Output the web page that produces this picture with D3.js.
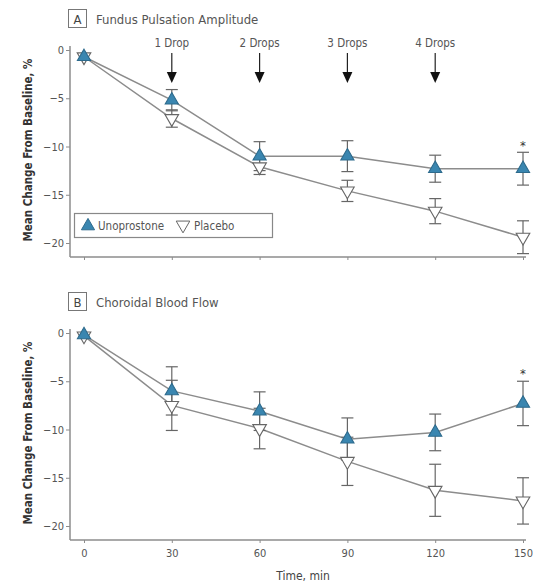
<!DOCTYPE html>
<html>
<head>
<meta charset="utf-8">
<script src="https://cdn.jsdelivr.net/npm/d3@7"></script>
<style>
  body { margin: 0; background: #fff; }
  text { font-family: "Liberation Sans Narrow", "DejaVu Sans Condensed", "Liberation Sans", sans-serif; }
</style>
</head>
<body>
<svg id="chart" width="537" height="587"></svg>
<script>
// time points, min
const times = [0, 30, 60, 90, 120, 150];
const yTicks = [0, -5, -10, -15, -20];
const drops = [
  { t: 30, label: "1 Drop" },
  { t: 60, label: "2 Drops" },
  { t: 90, label: "3 Drops" },
  { t: 120, label: "4 Drops" }
];

// panel A - fundus pulsation amplitude
const fpaUno = [-0.7, -5.2, -11.0, -11.0, -12.3, -12.3];
const fpaUnoErr = [0.3, 1.1, 1.5, 1.6, 1.4, 1.7];
const fpaPla = [-0.7, -7.1, -12.1, -14.6, -16.7, -19.4];
const fpaPlaErr = [0.3, 0.9, 0.8, 1.1, 1.3, 1.7];

// panel B - choroidal blood flow
const cbfUno = [-0.2, -6.0, -8.1, -11.0, -10.3, -7.3];
const cbfUnoErr = [0.3, 2.5, 2.0, 2.2, 1.9, 2.3];
const cbfPla = [-0.3, -7.5, -9.9, -13.3, -16.3, -17.4];
const cbfPlaErr = [0.3, 2.6, 2.1, 2.5, 2.7, 2.4];

const svg = d3.select("#chart");
const grey = "#8c8c8c";
const textCol = "#555";

const x = d3.scaleLinear().domain([0, 150]).range([84, 523]);

const drawPanel = (opts) => {
  const { top, letter, title, uno, unoErr, pla, plaErr, showX, star } = opts;
  // 0 -> top, -20 -> top+193
  const y = d3.scaleLinear().domain([0, -20]).range([top, top + 193]);
  const axisY = top + 207;
  const g = svg.append("g");

  // panel heading
  g.append("rect")
    .attr("x", 68.5).attr("y", top - 40.5)
    .attr("width", 18).attr("height", 18)
    .attr("fill", "none").attr("stroke", "#777");
  g.append("text")
    .attr("x", 77.5).attr("y", top - 26.5)
    .attr("text-anchor", "middle")
    .attr("font-size", 13).attr("fill", "#444")
    .text(letter);
  g.append("text")
    .attr("x", 96).attr("y", top - 26.5)
    .attr("font-size", 13).attr("fill", "#555")
    .text(title);

  // axes
  const yAxis = d3.axisLeft(y).tickValues(yTicks).tickSize(4).tickPadding(2)
    .tickFormat((d) => d === 0 ? "0" : "\u2212" + Math.abs(d));
  const ya = g.append("g").attr("transform", "translate(70,0)").call(yAxis);
  ya.select(".domain").attr("d", "M0," + (top - 4) + "V" + axisY);
  ya.selectAll("line").attr("stroke", grey);
  ya.select(".domain").attr("stroke", grey).attr("stroke-width", 1.5);
  ya.selectAll("text").attr("font-size", 11).attr("fill", textCol)
    .attr("font-family", "'Liberation Sans Narrow', 'DejaVu Sans Condensed', sans-serif");

  const xAxis = d3.axisBottom(x).tickValues(times).tickSize(3).tickPadding(6)
    .tickFormat(showX ? d3.format("d") : () => "");
  const xa = g.append("g").attr("transform", "translate(0," + axisY + ")").call(xAxis);
  xa.select(".domain").attr("d", "M70,0H526").attr("stroke", grey).attr("stroke-width", 1.5);
  xa.selectAll("line").attr("stroke", grey);
  xa.selectAll("text").attr("font-size", 11).attr("fill", textCol)
    .attr("font-family", "'Liberation Sans Narrow', 'DejaVu Sans Condensed', sans-serif");

  g.append("text")
    .attr("transform", "translate(32," + (top + 100) + ") rotate(-90)")
    .attr("text-anchor", "middle")
    .attr("font-size", 11.5).attr("font-weight", "bold").attr("fill", "#333")
    .text("Mean Change From Baseline, %");

  const line = d3.line().x((d, i) => x(times[i])).y((d) => y(d));

  const series = [
    { vals: pla, err: plaErr, up: false },
    { vals: uno, err: unoErr, up: true }
  ];

  series.forEach((s) => {
    g.append("path").datum(s.vals)
      .attr("d", line)
      .attr("fill", "none").attr("stroke", grey).attr("stroke-width", 1.5);
  });

  series.forEach((s) => {
    const eb = g.append("g");
    s.vals.forEach((v, i) => {
      if (i === 0) return;
      const cx = x(times[i]);
      const y0 = y(v + s.err[i]), y1 = y(v - s.err[i]);
      eb.append("line").attr("x1", cx).attr("x2", cx).attr("y1", y0).attr("y2", y1)
        .attr("stroke", "#666").attr("stroke-width", 1.2);
      [y0, y1].forEach((yy) => {
        eb.append("line").attr("x1", cx - 6).attr("x2", cx + 6).attr("y1", yy).attr("y2", yy)
          .attr("stroke", "#666").attr("stroke-width", 1.2);
      });
    });
  });

  series.forEach((s) => {
    const sym = d3.symbol().type(d3.symbolTriangle).size(s.up ? 75 : 80);
    g.selectAll(null).data(s.vals).enter().append("path")
      .attr("d", sym)
      .attr("transform", (d, i) => "translate(" + x(times[i]) + "," + y(d) + ")" + (s.up ? "" : " rotate(180)"))
      .attr("fill", s.up ? "#3a86b0" : "#fff")
      .attr("stroke", s.up ? "#2d6a8c" : "#666")
      .attr("stroke-width", 1.1);
  });

  g.append("text")
    .attr("x", x(150)).attr("y", y(star) + 6)
    .attr("text-anchor", "middle").attr("font-size", 13).attr("fill", "#333")
    .text("*");

  return { g, y };
};

const pA = drawPanel({
  top: 50, letter: "A", title: "Fundus Pulsation Amplitude",
  uno: fpaUno, unoErr: fpaUnoErr, pla: fpaPla, plaErr: fpaPlaErr,
  showX: false, star: -9.7
});

// drop arrows
drops.forEach((d) => {
  const cx = x(d.t);
  pA.g.append("text")
    .attr("x", cx).attr("y", 47)
    .attr("text-anchor", "middle").attr("font-size", 11.5).attr("fill", textCol)
    .text(d.label);
  pA.g.append("line")
    .attr("x1", cx).attr("x2", cx).attr("y1", 53).attr("y2", 73)
    .attr("stroke", "#222").attr("stroke-width", 1.2);
  pA.g.append("path")
    .attr("d", "M" + (cx - 5) + ",72L" + (cx + 5) + ",72L" + cx + ",83Z")
    .attr("fill", "#111");
});

// legend
const lg = pA.g.append("g");
lg.append("rect").attr("x", 74.5).attr("y", 213.5).attr("width", 198).attr("height", 24)
  .attr("fill", "#fff").attr("stroke", "#888").attr("stroke-width", 1.2);
lg.append("path").attr("d", d3.symbol().type(d3.symbolTriangle).size(75))
  .attr("transform", "translate(88,226)")
  .attr("fill", "#3a86b0").attr("stroke", "#2d6a8c");
lg.append("text").attr("x", 98).attr("y", 230).attr("font-size", 11.5).attr("fill", textCol)
  .text("Unoprostone");
lg.append("path").attr("d", d3.symbol().type(d3.symbolTriangle).size(80))
  .attr("transform", "translate(183,225) rotate(180)")
  .attr("fill", "#fff").attr("stroke", "#666");
lg.append("text").attr("x", 194).attr("y", 230).attr("font-size", 11.5).attr("fill", textCol)
  .text("Placebo");

drawPanel({
  top: 333, letter: "B", title: "Choroidal Blood Flow",
  uno: cbfUno, unoErr: cbfUnoErr, pla: cbfPla, plaErr: cbfPlaErr,
  showX: true, star: -4.0
});

svg.append("text")
  .attr("x", 303).attr("y", 580)
  .attr("text-anchor", "middle").attr("font-size", 12).attr("fill", "#444")
  .text("Time, min");
</script>
</body>
</html>
